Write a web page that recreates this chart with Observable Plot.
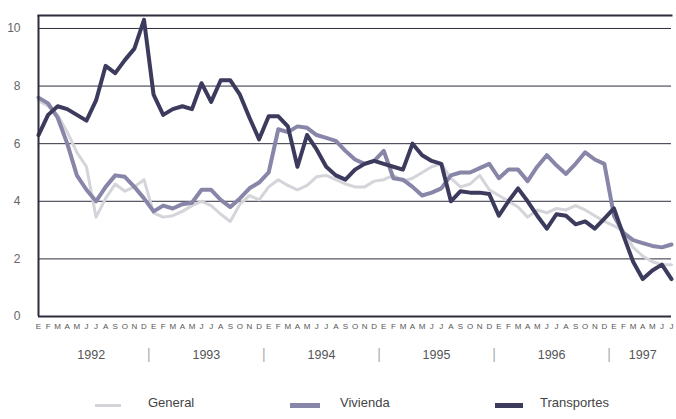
<!DOCTYPE html>
<html>
<head>
<meta charset="utf-8">
<script src="https://cdn.jsdelivr.net/npm/d3@7"></script>
<script src="https://cdn.jsdelivr.net/npm/@observablehq/plot@0.6"></script>
<style>
  html, body { margin: 0; padding: 0; background: #fff; }
  body { width: 676px; height: 419px; overflow: hidden; font-family: "Liberation Sans", Arial, sans-serif; }
  #legend { position: relative; width: 676px; height: 33px; }
  .sw { position: absolute; height: 5px; top: 17px; }
  .lt { position: absolute; top: 9px; font-size: 13px; color: #444; }
</style>
</head>
<body>
<div id="chart"></div>
<div id="legend">
  <div class="sw" style="left:95px;width:26px;background:#d4d4da;height:3px;top:18px"></div>
  <div class="lt" style="left:148px">General</div>
  <div class="sw" style="left:290px;width:30px;background:#8886a8"></div>
  <div class="lt" style="left:340px">Vivienda</div>
  <div class="sw" style="left:495px;width:28px;background:#3c3b5e"></div>
  <div class="lt" style="left:540px">Transportes</div>
</div>
<script>
const months = ["E","F","M","A","M","J","J","A","S","O","N","D"];
const years = ["1992","1993","1994","1995","1996","1997"];
const yTicks = [0, 2, 4, 6, 8, 10];

const general = [7.5,7.3,7.0,6.4,5.7,5.2,3.45,4.1,4.6,4.35,4.5,4.75,
  3.6,3.45,3.5,3.65,3.85,4.0,3.85,3.55,3.3,3.9,4.2,4.05,
  4.5,4.75,4.55,4.4,4.55,4.85,4.9,4.75,4.6,4.5,4.5,4.7,
  4.75,4.9,4.7,4.8,5.0,5.2,5.3,4.8,4.5,4.6,4.9,4.4,
  4.2,4.0,3.8,3.45,3.7,3.6,3.75,3.7,3.85,3.7,3.5,3.3,
  3.15,2.95,2.4,2.1,1.9,1.8,1.8];

const vivienda = [7.6,7.4,6.9,6.0,4.9,4.4,4.0,4.5,4.9,4.85,4.5,4.1,
  3.65,3.85,3.75,3.9,3.95,4.4,4.4,4.05,3.8,4.1,4.45,4.65,
  5.0,6.5,6.4,6.6,6.55,6.3,6.2,6.1,5.75,5.45,5.3,5.4,
  5.75,4.8,4.75,4.5,4.2,4.3,4.45,4.9,5.0,5.0,5.15,5.3,
  4.8,5.1,5.1,4.7,5.2,5.6,5.25,4.95,5.3,5.7,5.45,5.3,
  3.5,2.9,2.65,2.55,2.45,2.4,2.5];

const transportes = [6.3,7.0,7.3,7.2,7.0,6.8,7.5,8.7,8.45,8.9,9.3,10.3,
  7.7,7.0,7.2,7.3,7.2,8.1,7.45,8.2,8.2,7.7,6.9,6.15,
  6.95,6.95,6.6,5.2,6.3,5.8,5.2,4.9,4.75,5.1,5.3,5.4,
  5.3,5.2,5.1,6.0,5.6,5.4,5.3,4.0,4.35,4.3,4.3,4.25,
  3.5,4.0,4.45,4.0,3.5,3.05,3.55,3.5,3.2,3.3,3.05,3.4,
  3.75,2.8,1.9,1.3,1.6,1.8,1.3];

const n = general.length;
const idx = d3.range(n);
const toRows = (arr) => arr.map((v, i) => ({i, v}));

// year label centres (middle of each year's months) and separators between years
const yearCenters = years.map((y, k) => k * 12 + (Math.min(12, n - k * 12) - 1) / 2);
const separators = years.slice(1).map((y, k) => (k + 1) * 12 - 0.5);

const ink = "#2e2d3c";

const chart = Plot.plot({
  width: 676,
  height: 386,
  marginLeft: 38,
  marginRight: 5,
  marginTop: 15,
  marginBottom: 70,
  x: {domain: [0, n - 1], axis: null, label: null},
  y: {domain: [0, 10.45], axis: null, label: null},
  style: {fontFamily: "'Liberation Sans', Arial, sans-serif", background: "#fff", overflow: "visible"},
  marks: [
    Plot.ruleY(yTicks.filter(d => d > 0), {stroke: ink, strokeWidth: 1}),
    Plot.lineY(toRows(general), {x: "i", y: "v", stroke: "#d4d4da", strokeWidth: 3, strokeLinejoin: "round"}),
    Plot.lineY(toRows(vivienda), {x: "i", y: "v", stroke: "#8886a8", strokeWidth: 4, strokeLinejoin: "round"}),
    Plot.lineY(toRows(transportes), {x: "i", y: "v", stroke: "#3c3b5e", strokeWidth: 4, strokeLinejoin: "round"}),
    Plot.ruleX([0], {stroke: ink, strokeWidth: 2}),
    Plot.ruleY([0], {stroke: ink, strokeWidth: 2}),
    Plot.frame({anchor: "top", stroke: ink, strokeWidth: 2}),
    Plot.axisY(yTicks, {tickSize: 0, tickPadding: 18, fontSize: 12, fill: "#666", label: null}),
    Plot.axisX(idx, {tickSize: 0, tickPadding: 7, tickFormat: d => months[d % 12], fontSize: 8, fill: "#555", label: null}),
    Plot.axisX(yearCenters, {tickSize: 0, tickPadding: 34, tickFormat: d => years[Math.floor(d / 12)], fontSize: 12.5, fill: "#555", label: null}),
    Plot.axisX(separators, {tickSize: 0, tickPadding: 33, tickFormat: () => "|", fontSize: 14, fill: "#aaa", label: null})
  ]
});
document.getElementById("chart").appendChild(chart);
</script>
</body>
</html>
